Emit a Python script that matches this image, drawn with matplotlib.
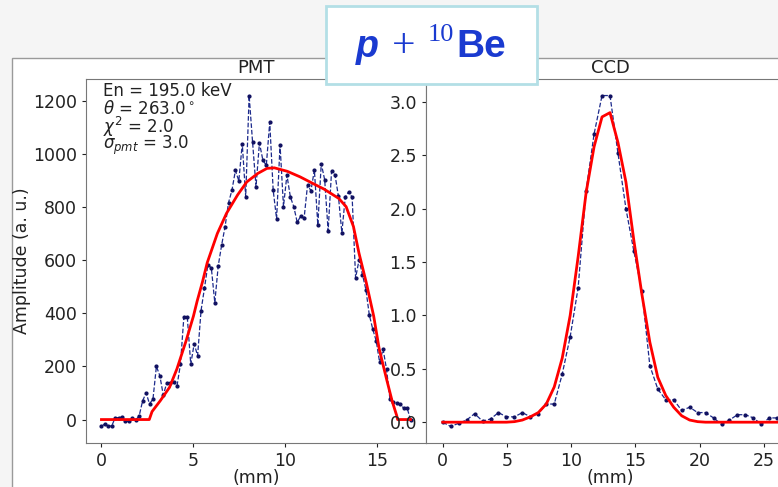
import numpy as np
import matplotlib.pyplot as plt
from matplotlib.patches import Rectangle

W, H = 778, 487

# PMT profile (mm spacing of the PMT samples)
pmt_step = 0.1867
pmt_amp = [-26, -16, -25, -24, 7, 7, 10, -7, -7, 5,
           -2, 15, 71, 100, 59, 77, 200, 165, 92, 137,
           137, 140, 127, 208, 387, 384, 208, 285, 240, 410,
           495, 583, 570, 440, 578, 657, 726, 816, 863, 937,
           898, 1038, 838, 1219, 1044, 876, 1041, 976, 956, 1119,
           863, 755, 1034, 801, 920, 838, 801, 742, 765, 757,
           882, 861, 939, 732, 963, 902, 710, 934, 921, 840,
           703, 838, 857, 836, 533, 600, 545, 489, 393, 340,
           296, 215, 265, 190, 77, 65, 62, 58, 43, 43, 0]
pmt_fit_x = [0, 2.6, 2.75, 3.2, 3.7, 4.1, 4.6, 5.0, 5.2, 5.5, 5.75, 6.0, 6.3,
             6.8, 7.4, 7.9, 8.5, 9.0, 9.4, 10.1, 10.8, 11.5, 12.1, 12.9, 13.3,
             13.7, 14.0, 14.4, 14.8, 15.1, 15.5, 15.8, 16.05, 16.1, 16.8]
pmt_fit_y = [0, 0, 30, 71, 121, 190, 296, 389, 445, 520, 590, 640, 700,
             776, 845, 894, 926, 945, 947, 934, 913, 888, 867, 832, 801,
             726, 626, 514, 389, 265, 152, 70, 15, 0, 0]

# CCD profile
ccd_step = 0.62
ccd_amp = [0.00, -0.04, -0.01, 0.02, 0.08, 0.01, 0.03, 0.09, 0.05, 0.05,
           0.09, 0.05, 0.08, 0.17, 0.17, 0.45, 0.80, 1.26, 2.17, 2.70,
           3.06, 3.06, 2.52, 2.00, 1.60, 1.23, 0.53, 0.31, 0.21, 0.21,
           0.11, 0.14, 0.09, 0.09, 0.04, -0.02, 0.02, 0.07, 0.07, 0.04,
           -0.02, 0.04, 0.04]
ccd_fit = [0, 0, 0, 0, 0, 0, 0, 0, 0, 0.005,
           0.02, 0.05, 0.09, 0.17, 0.33, 0.60, 1.00, 1.55, 2.15, 2.58,
           2.86, 2.90, 2.62, 2.25, 1.70, 1.20, 0.75, 0.42, 0.25, 0.14,
           0.06, 0.02, 0.005, 0, 0, 0, 0, 0, 0, 0,
           0, 0, 0]

pmt_x = np.arange(len(pmt_amp)) * pmt_step
ccd_x = np.arange(len(ccd_amp)) * ccd_step

info = ['En = 195.0 keV', r'$\theta$ = 263.0$^\circ$', r'$\chi^2$ = 2.0',
        r'$\sigma_{pmt}$ = 3.0']


def fx(px):
    return px / W


def fy(py):
    return 1 - py / H


fig = plt.figure(figsize=(W / 100, H / 100), dpi=100, facecolor='#f5f5f5')
# white slide panel
fig.patches.append(Rectangle((fx(12), -0.1), 1.0, fy(58) + 0.1, transform=fig.transFigure,
                             facecolor='white', edgecolor='#9a9a9a', lw=1, zorder=-1))

ax1 = fig.add_axes([fx(86), fy(443), (426 - 86) / W, (443 - 79) / H])
ax2 = fig.add_axes([fx(426), fy(443), (794 - 426) / W, (443 - 79) / H])

for ax, x, y, fxs, fys, title in [(ax1, pmt_x, pmt_amp, pmt_fit_x, pmt_fit_y, 'PMT'),
                                  (ax2, ccd_x, ccd_amp, ccd_x, ccd_fit, 'CCD')]:
    ax.plot(x, y, color='#1c2a8c', ls='--', lw=0.9, marker='.', ms=4, mfc='#101060', mec='#101060')
    ax.plot(fxs, fys, color='red', lw=2)
    ax.set_title(title, fontsize=13, color='#222222', pad=4)
    ax.set_xlabel('(mm)', fontsize=12.5, color='#222222', labelpad=-1)
    ax.tick_params(labelsize=12.5, colors='#222222', length=3)
    for s in ax.spines.values():
        s.set_color('#777777')

ax1.set_xticks([0, 5, 10, 15])
ax1.set_yticks(range(0, 1201, 200))
ax2.set_xticks(range(0, 26, 5))
ax2.set_yticks(np.arange(0, 3.01, 0.5))
ax2.set_yticklabels(['%.1f' % v for v in np.arange(0, 3.01, 0.5)])

fig.text(fx(22), fy(261), 'Amplitude (a. u.)', rotation=90, ha='center', va='center',
         fontsize=12.5, color='#222222')

for i, s in enumerate(info):
    ax1.text(0.05, 1 - (12 + 18 * i) / 364, s, transform=ax1.transAxes,
             ha='left', va='center', fontsize=12, color='#222222')

# title box
fig.patches.append(Rectangle((fx(326), fy(84)), (537 - 326) / W, (84 - 6) / H,
                             transform=fig.transFigure, facecolor='white',
                             edgecolor='#b3dfe6', lw=2, zorder=5))
blue = '#1a3ad0'
fig.text(fx(356), fy(57), 'p', fontsize=27, fontweight='bold', style='italic',
         family='Liberation Sans', color=blue, zorder=6)
fig.text(fx(392), fy(57), '+', fontsize=30, family='Liberation Serif', color=blue, zorder=6)
fig.text(fx(428), fy(41), '10', fontsize=19, family='Liberation Serif', color=blue, zorder=6)
fig.text(fx(456), fy(57), 'Be', fontsize=28, fontweight='bold', family='Liberation Sans',
         color=blue, zorder=6)

fig.savefig('out.png', dpi=100, facecolor=fig.get_facecolor())
